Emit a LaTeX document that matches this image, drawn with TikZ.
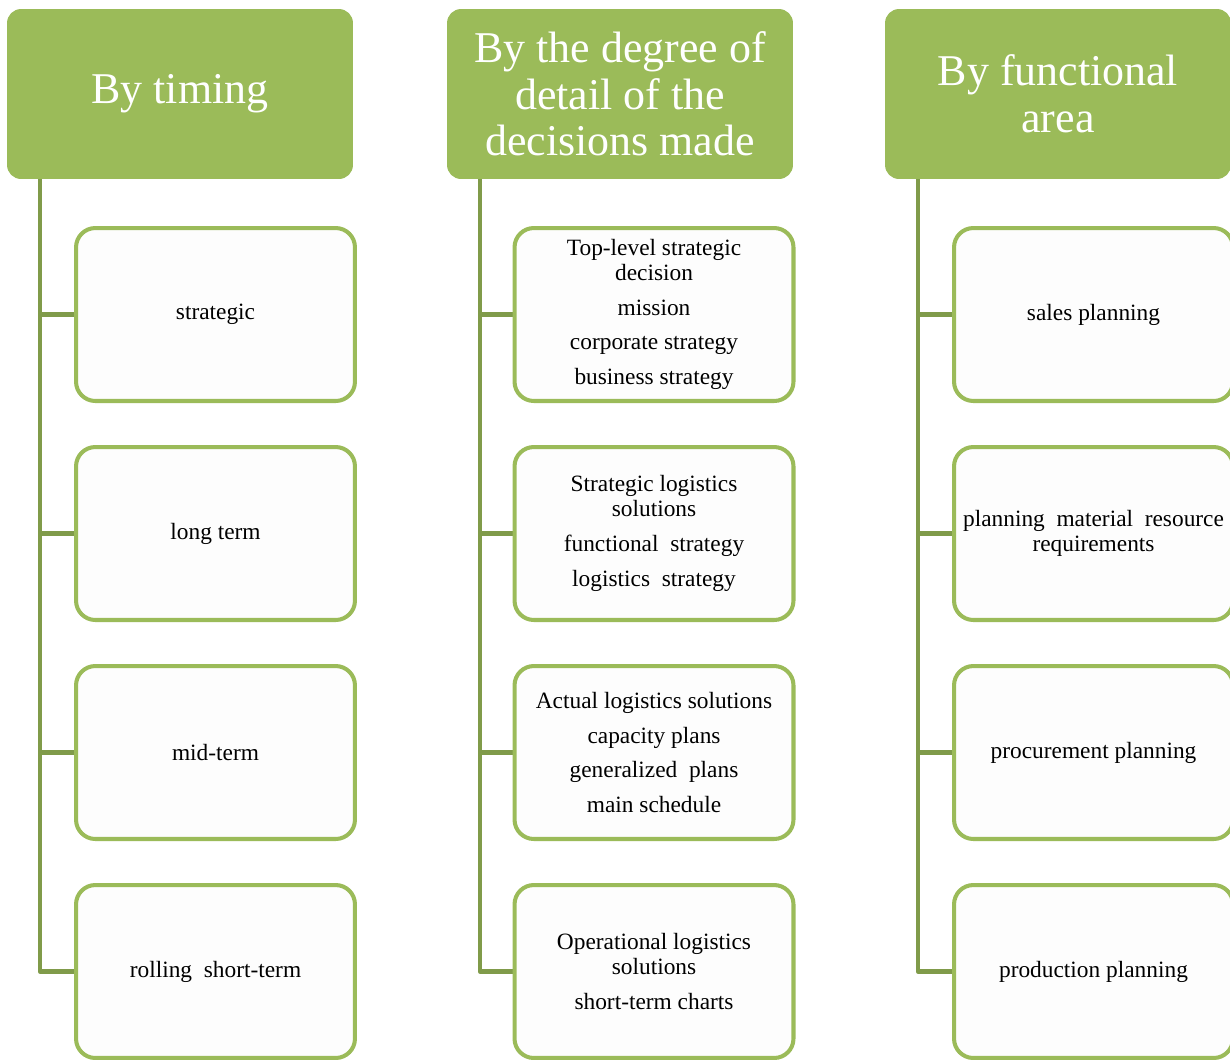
\documentclass[tikz,border=0pt]{standalone}
\usepackage{fontspec}
\setmainfont{Liberation Serif}
\usetikzlibrary{positioning, calc, backgrounds}

\begin{document}
\begin{tikzpicture}[x=0.02cm, y=-0.02cm,
    header/.style={fill=hdgreen, rounded corners=8pt, text=white, align=center,
        minimum width=6.92cm, minimum height=3.4cm, inner sep=0pt,
        font=\fontsize{25}{26.6}\selectfont},
    item/.style={draw=hdgreen, fill=boxfill, line width=2.3pt, rounded corners=11pt,
        align=center, minimum width=5.58cm, minimum height=3.46cm, inner sep=0pt,
        font=\fontsize{13.3}{14.2}\selectfont},
    link/.style={draw=linkgreen, line width=2.3pt, line join=round}]

    % Colours (Office green theme)
    \definecolor{hdgreen}{RGB}{155, 187, 89}
    \definecolor{linkgreen}{RGB}{128, 155, 74}
    \definecolor{boxfill}{RGB}{253, 253, 253}

    % Fix the page to the reference frame
    \useasboundingbox (0, 0) rectangle (1230, 1059);

    % 1. Column headers
    \node[header] (hda) at (180, 94) {By timing};
    \node[header] (hdb) at (620, 94) {By the degree of\\detail of the\\decisions made};
    \node[header] (hdc) at (1058, 94) {By functional\\area};

    % 2. Boxes under each header (row pitch 219)
    % Column a: by timing
    \foreach \txt [count=\i] in {strategic, long term, mid-term, rolling\ \ short-term} {
        \node[item] (a\i) at (215.5, {314.5 + 219*(\i-1)}) {\txt};
    }

    % Column b: by degree of detail
    \foreach \txt [count=\i] in {
        {Top-level strategic\\decision\\[5.6pt]mission\\[5.6pt]corporate strategy\\[5.6pt]business strategy},
        {Strategic logistics\\solutions\\[5.6pt]functional\ \ strategy\\[5.6pt]logistics\ \ strategy},
        {Actual logistics solutions\\[5.6pt]capacity plans\\[5.6pt]generalized\ \ plans\\[5.6pt]main schedule},
        {Operational logistics\\solutions\\[5.6pt]short-term charts}} {
        \node[item] (b\i) at (654, {314.5 + 219*(\i-1)}) {\txt};
    }

    % Column c: by functional area
    \foreach \txt [count=\i] in {sales planning,
        {planning\ \ material\ \ resource\\requirements},
        procurement planning, production planning} {
        \node[item] (c\i) at (1093.5, {314.5 + 219*(\i-1)}) {\txt};
    }

    % 3. Connectors: down from the header, then right into each box
    \begin{scope}[on background layer]
        \foreach \c in {a, b, c} {
            \foreach \i in {1, ..., 4} {
                \draw[link] ([xshift=0.66cm]hd\c.south west) |- (\c\i.west);
            }
        }
    \end{scope}

\end{tikzpicture}
\end{document}
